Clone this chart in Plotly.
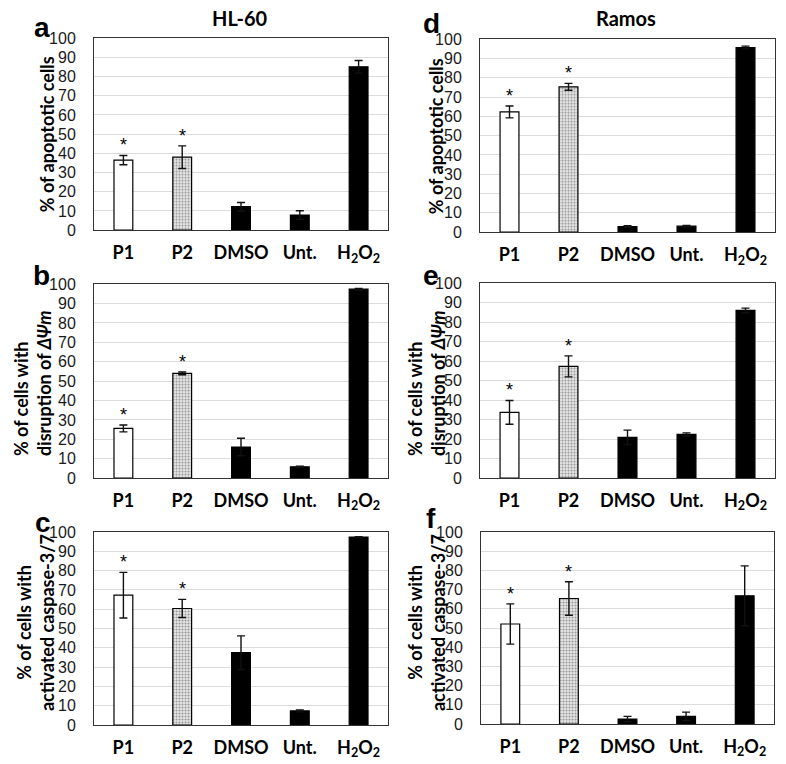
import plotly.graph_objects as go

categories = ["P1", "P2", "DMSO", "Unt.", "H2O2"]
tick_labels = ["<b>P1</b>", "<b>P2</b>", "<b>DMSO</b>", "<b>Unt.</b>", "<b>H<sub>2</sub>O<sub>2</sub></b>"]

# HL-60
a_vals = [36.5, 38.0, 12.2, 7.9, 85.1]
a_err = [2.4, 5.9, 2.2, 2.2, 3.3]
b_vals = [25.6, 54.0, 16.0, 5.8, 97.4]
b_err = [1.8, 0.7, 4.5, 0.3, 0.4]
c_vals = [67.3, 60.4, 37.5, 7.3, 97.4]
c_err = [11.8, 4.7, 8.7, 0.5, 0.2]
# Ramos
d_vals = [62.3, 75.3, 2.9, 3.1, 95.7]
d_err = [3.1, 1.8, 0.4, 0.4, 0.7]
e_vals = [33.7, 57.3, 20.9, 22.4, 86.0]
e_err = [6.1, 5.4, 3.7, 0.8, 1.2]
f_vals = [52.1, 65.4, 2.6, 4.0, 66.8]
f_err = [10.5, 8.7, 1.4, 2.2, 15.6]

significant = [True, True, False, False, False]

yticks = list(range(0, 101, 10))

W, H = 786, 764


def py(v):
    # compensate the vertical placement observed in the rendered page
    return (v - 7.8) / 0.978


panels = [
    ("a", a_vals, a_err, (94, 388), (38, 230), "% of apoptotic cells", "center"),
    ("b", b_vals, b_err, (94, 388), (284, 478), "% of cells with<br>disruption of <i>ΔΨm</i>", "left"),
    ("c", c_vals, c_err, (94, 388), (532, 725), "% of cells with<br>activated caspase-3/7", "center"),
    ("d", d_vals, d_err, (480, 775), (39, 232), "% of apoptotic cells", "center"),
    ("e", e_vals, e_err, (480, 775), (283, 478), "% of cells with<br>disruption of <i>ΔΨm</i>", "left"),
    ("f", f_vals, f_err, (481, 774), (532, 724), "% of cells with<br>activated caspase-3/7", "center"),
]

letter_pos = {"a": (42, 27), "b": (41, 275), "c": (43, 522),
              "d": (431, 23), "e": (431, 275), "f": (431, 518)}
ytitle_pos = {"a": (47, 134), "b": (32, 383), "c": (35, 623),
              "d": (436, 136), "e": (426, 383), "f": (426, 623)}

fig = go.Figure()
annotations = []
layout = {}

fills = ["white", "#e8e8e8", "black", "black", "black"]

for i, (lab, vals, errs, (x0, x1), (y0, y1), ytitle, talign) in enumerate(panels):
    n = i + 1
    xa = "x" if n == 1 else f"x{n}"
    ya = "y" if n == 1 else f"y{n}"
    xkey = "xaxis" if n == 1 else f"xaxis{n}"
    ykey = "yaxis" if n == 1 else f"yaxis{n}"
    fig.add_trace(go.Bar(
        x=categories, y=vals, xaxis=xa, yaxis=ya,
        marker=dict(color=fills, line=dict(color="black", width=1.2),
                    pattern=dict(shape=["", ".", "", "", ""], fgcolor="#444444",
                                 bgcolor="#f4f4f4", size=3, solidity=0.4)),
        error_y=dict(type="data", array=errs, visible=True, color="#111111",
                     thickness=1.4, width=4),
        showlegend=False, width=0.32,
    ))
    layout[xkey] = dict(
        domain=[x0 / W, x1 / W], anchor=ya, type="category",
        tickvals=categories, ticktext=tick_labels,
        showline=True, mirror=True, linecolor="#333333", linewidth=1,
        showgrid=False, ticks="", tickfont=dict(family="Lato", size=18, color="black"),
        ticklabelstandoff=6, fixedrange=True,
    )
    layout[ykey] = dict(
        domain=[1 - py(y1) / H, 1 - py(y0) / H], anchor=xa, range=[0, 100],
        tickvals=yticks, showline=True, mirror=True, linecolor="#333333", linewidth=1,
        showgrid=True, gridcolor="#dcdcdc", gridwidth=1, zeroline=False,
        ticks="", tickfont=dict(family="Liberation Sans", size=16, color="#1a1a1a"),
        ticklabelstandoff=14,
    )
    # asterisks
    for c, v, e, s in zip(categories, vals, errs, significant):
        if s:
            annotations.append(dict(x=c, y=v + e, xref=xa, yref=ya, text="*",
                                    showarrow=False, yanchor="bottom", yshift=-2,
                                    font=dict(family="Liberation Sans", size=18, color="black")))
    # panel letter
    lx, ly = letter_pos[lab]
    annotations.append(dict(x=lx / W, y=1 - py(ly) / H, xref="paper", yref="paper", text=f"<b>{lab}</b>",
                            showarrow=False, xanchor="center", yanchor="middle",
                            font=dict(family="Liberation Sans", size=28, color="black")))
    # y title
    tx, ty = ytitle_pos[lab]
    annotations.append(dict(x=tx / W, y=1 - py(ty) / H, xref="paper", yref="paper",
                            text=f"<b>{ytitle}</b>", textangle=-90, showarrow=False,
                            xanchor="center", yanchor="middle", align=talign,
                            font=dict(family="Lato", size=18, color="black")))

annotations.append(dict(x=240 / W, y=1 - py(18) / H, xref="paper", yref="paper", text="<b>HL-60</b>",
                        showarrow=False, xanchor="center", yanchor="middle",
                        font=dict(family="Lato", size=20, color="black")))
annotations.append(dict(x=626 / W, y=1 - py(18) / H, xref="paper", yref="paper", text="<b>Ramos</b>",
                        showarrow=False, xanchor="center", yanchor="middle",
                        font=dict(family="Lato", size=20, color="black")))

fig.update_layout(
    width=W, height=H, margin=dict(l=0, r=0, t=0, b=0),
    paper_bgcolor="white", plot_bgcolor="white",
    annotations=annotations, bargap=0.68, **layout,
)

fig.write_html("out.html", config={"displayModeBar": False},
               post_script="document.body.style.margin='0';document.body.style.overflow='hidden';")
